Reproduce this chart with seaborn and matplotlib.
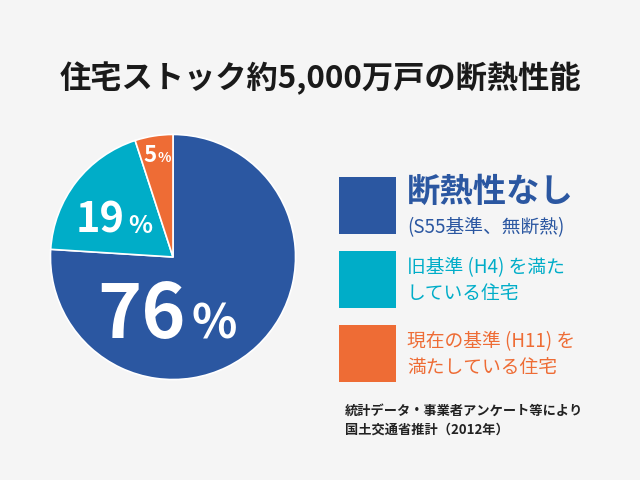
import numpy as np
import matplotlib
matplotlib.use("Agg")
import matplotlib.pyplot as plt
from matplotlib.patches import Rectangle
import seaborn as sns

# ---- data ----
categories = ["断熱性なし", "旧基準(H4)を満たしている住宅", "現在の基準(H11)を満たしている住宅"]
shares = [76, 19, 5]
legend_main = ["断熱性なし", "旧基準 (H4) を満た\nしている住宅", "現在の基準 (H11) を\n満たしている住宅"]
legend_sub = ["(S55基準、無断熱)", "", ""]
title = "住宅ストック約5,000万戸の断熱性能"
note = "統計データ・事業者アンケート等により\n国土交通省推計（2012年）"

colors = ["#2b57a1", "#00adc8", "#ee6c35"]
bg = "#f5f5f5"

sns.set_theme(style="white")
plt.rcParams['font.family'] = ['Noto Sans CJK JP', 'DejaVu Sans']

fig = plt.figure(figsize=(6.4, 4.8), dpi=100, facecolor=bg)

# pie axes: centre (173,257) px from top-left, radius 125 px
cx, cy, R = 173, 257, 125
ax = fig.add_axes([(cx - R) / 640, (480 - cy - R) / 480, 2 * R / 640, 2 * R / 480])
ax.set_facecolor(bg)
wedges, _ = ax.pie(shares, colors=colors, startangle=90, counterclock=False,
                   wedgeprops=dict(edgecolor="white", linewidth=1.2))
ax.set_xlim(-1.02, 1.02)
ax.set_ylim(-1.02, 1.02)
ax.set_aspect("equal")
ax.axis("off")

# label placement (relative to wedge mid-angle): angle offset (deg), radius, font sizes
label_style = [(-34, 0.67, 54, 34), (11, 0.44, 30, 18), (1, 0.79, 16, 10)]
for w, v, (dth, r, fs_num, fs_pct) in zip(wedges, shares, label_style):
    mid = np.deg2rad((w.theta1 + w.theta2) / 2 + dth)
    x, y = r * np.cos(mid), r * np.sin(mid)
    ax.text(x, y, f"{v}", ha="right", va="baseline", color="white",
            fontsize=fs_num, fontweight="bold")
    ax.annotate("%", (x, y), xytext=(fs_pct * 0.12, 0), textcoords="offset points",
                ha="left", va="baseline", color="white", fontsize=fs_pct, fontweight="bold")

# overlay in pixel coordinates for title / legend / note
ov = fig.add_axes([0, 0, 1, 1], zorder=-1)
ov.set_xlim(0, 640)
ov.set_ylim(480, 0)
ov.axis("off")
ov.patch.set_alpha(0)

fig.text(0.5, 1 - 78 / 480, title, ha="center", va="center", fontsize=22.5,
         fontweight="bold", color="#1a1a1a")

sq_top = [177, 251, 325]
sq_size = 57
for i, (c, top) in enumerate(zip(colors, sq_top)):
    ov.add_patch(Rectangle((339, top), sq_size, sq_size, facecolor=c, edgecolor="none"))

ov.text(407, 192, legend_main[0], ha="left", va="center", fontsize=24,
        fontweight="bold", color=colors[0])
ov.text(407, 228, legend_sub[0], ha="left", va="center", fontsize=13.5,
        color=colors[0])
ov.text(407, 281, legend_main[1], ha="left", va="center", fontsize=13.5,
        color=colors[1], linespacing=1.3)
ov.text(407, 355, legend_main[2], ha="left", va="center", fontsize=13.5,
        color=colors[2], linespacing=1.3)

ov.text(345, 420, note, ha="left", va="center", fontsize=9.5,
        fontweight="bold", color="#222222", linespacing=1.45)

fig.savefig("out.png", dpi=100, facecolor=bg)
